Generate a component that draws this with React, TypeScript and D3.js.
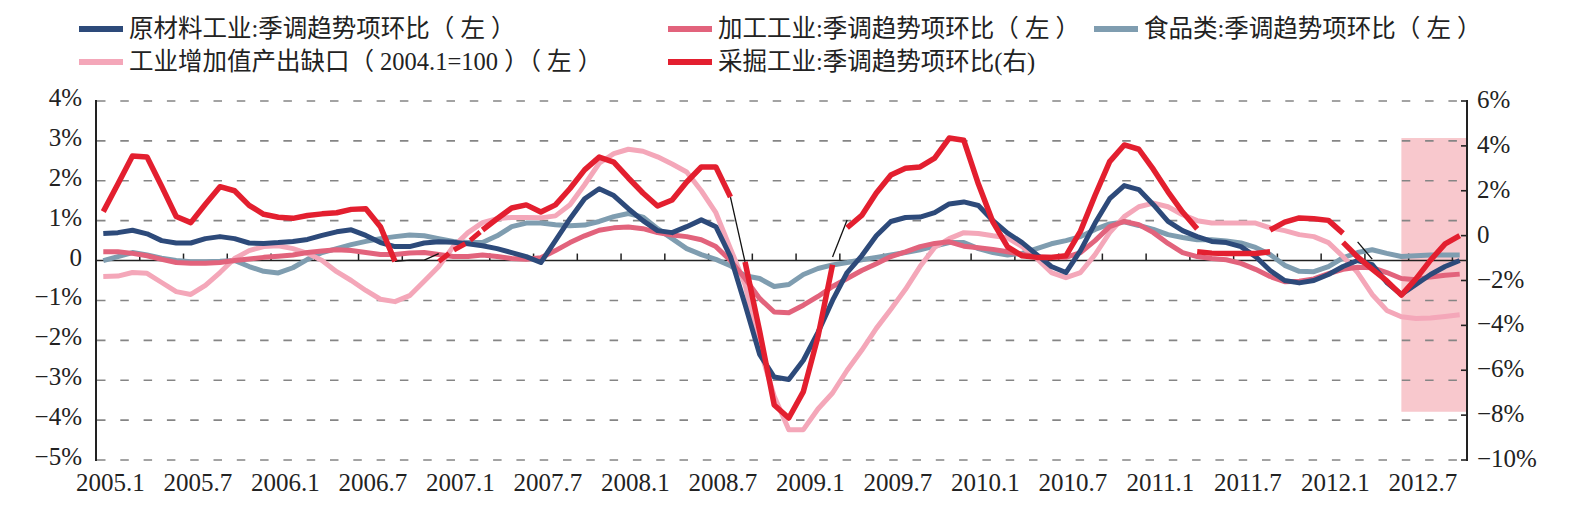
import React, { useEffect, useRef } from "react";
import * as d3 from "d3";

// months 2005.1 .. 2012.10
const firstYear = 2005;
const monthCount = 94;
const months: string[] = d3.range(monthCount).map((i) => `${firstYear + Math.floor(i / 12)}.${(i % 12) + 1}`);

const tickLabels = ["2005.1", "2005.7", "2006.1", "2006.7", "2007.1", "2007.7", "2008.1", "2008.7",
  "2009.1", "2009.7", "2010.1", "2010.7", "2011.1", "2011.7", "2012.1", "2012.7"];
const leftTicks = [4, 3, 2, 1, 0, -1, -2, -3, -4, -5];
const rightTicks = [6, 4, 2, 0, -2, -4, -6, -8, -10];

// 原材料工业
const rawMaterial = [
  0.68, 0.70, 0.76, 0.67, 0.50, 0.44, 0.44, 0.55, 0.60, 0.55,
  0.44, 0.43, 0.45, 0.48, 0.53, 0.63, 0.72, 0.77, 0.63, 0.45,
  0.35, 0.35, 0.44, 0.47, 0.46, 0.42, 0.37, 0.30, 0.20, 0.10,
  -0.05, 0.50, 1.05, 1.55, 1.80, 1.63, 1.30, 1.00, 0.75, 0.70,
  0.85, 1.02, 0.85, 0.10, -1.10, -2.35, -2.92, -2.98, -2.50, -1.80,
  -1.00, -0.30, 0.12, 0.62, 0.98, 1.08, 1.09, 1.20, 1.42, 1.47,
  1.38, 1.00, 0.69, 0.45, 0.15, -0.15, -0.30, 0.25, 0.94, 1.55,
  1.88, 1.78, 1.40, 0.98, 0.75, 0.60, 0.48, 0.45, 0.35, 0.10,
  -0.25, -0.50, -0.56, -0.50, -0.35, -0.15, 0.00, -0.10, -0.55, -0.85,
  -0.60, -0.35, -0.15, 0.00,
];

// 加工工业
const processing = [
  0.22, 0.22, 0.18, 0.12, 0.03, -0.05, -0.07, -0.07, -0.05, 0.00,
  0.04, 0.08, 0.11, 0.14, 0.20, 0.24, 0.27, 0.25, 0.20, 0.15,
  0.15, 0.19, 0.20, 0.15, 0.10, 0.10, 0.14, 0.10, 0.05, 0.03,
  0.07, 0.25, 0.45, 0.62, 0.76, 0.82, 0.84, 0.80, 0.70, 0.64,
  0.60, 0.52, 0.35, 0.00, -0.45, -0.95, -1.29, -1.31, -1.12, -0.90,
  -0.65, -0.45, -0.25, -0.08, 0.10, 0.22, 0.35, 0.43, 0.47, 0.36,
  0.32, 0.28, 0.22, 0.15, 0.10, 0.08, 0.08, 0.20, 0.50, 0.85,
  0.98, 0.90, 0.70, 0.43, 0.20, 0.10, 0.05, 0.02, -0.07, -0.22,
  -0.40, -0.53, -0.52, -0.46, -0.33, -0.22, -0.17, -0.18, -0.30, -0.45,
  -0.48, -0.41, -0.37, -0.34,
];

// 食品类
const food = [
  0.00, 0.10, 0.20, 0.14, 0.06, 0.00, -0.03, -0.03, -0.02, 0.00,
  -0.15, -0.27, -0.31, -0.18, 0.03, 0.20, 0.30, 0.40, 0.48, 0.55,
  0.60, 0.64, 0.62, 0.55, 0.48, 0.45, 0.45, 0.62, 0.85, 0.94,
  0.94, 0.90, 0.87, 0.89, 0.98, 1.10, 1.18, 1.09, 0.80, 0.55,
  0.30, 0.15, 0.03, -0.13, -0.38, -0.45, -0.65, -0.60, -0.35, -0.20,
  -0.11, -0.05, 0.02, 0.08, 0.14, 0.20, 0.27, 0.36, 0.45, 0.45,
  0.30, 0.20, 0.14, 0.18, 0.30, 0.42, 0.50, 0.60, 0.78, 0.92,
  0.97, 0.88, 0.78, 0.65, 0.58, 0.52, 0.52, 0.49, 0.44, 0.33,
  0.15, -0.12, -0.27, -0.28, -0.15, 0.07, 0.20, 0.27, 0.18, 0.10,
  0.12, 0.14, 0.14, 0.14,
];

// 工业增加值产出缺口
const outputGap = [
  -0.40, -0.39, -0.30, -0.32, -0.55, -0.78, -0.85, -0.62, -0.30, 0.05,
  0.25, 0.35, 0.37, 0.30, 0.18, 0.00, -0.28, -0.50, -0.75, -0.97,
  -1.03, -0.88, -0.52, -0.15, 0.35, 0.70, 0.95, 1.05, 1.08, 1.08,
  1.07, 1.12, 1.40, 1.90, 2.44, 2.68, 2.79, 2.74, 2.60, 2.42,
  2.22, 1.75, 1.20, 0.30, -0.60, -2.20, -3.40, -4.24, -4.24, -3.72,
  -3.32, -2.75, -2.25, -1.70, -1.22, -0.72, -0.15, 0.33, 0.55, 0.70,
  0.68, 0.62, 0.57, 0.35, 0.05, -0.30, -0.43, -0.30, 0.15, 0.70,
  1.10, 1.35, 1.44, 1.35, 1.15, 1.00, 0.94, 0.94, 0.94, 0.94,
  0.82, 0.75, 0.65, 0.60, 0.45, 0.10, -0.30, -0.85, -1.25, -1.41,
  -1.45, -1.44, -1.40, -1.36,
];

// 采掘工业 (right axis), drawn in broken pieces: [first month, values]
const miningSolid: [string, number[]][] = [
  ["2005.1", [1.07, 2.3, 3.55, 3.5, 2.2, 0.85, 0.58, 1.4, 2.18, 2.0, 1.35, 0.95, 0.82, 0.77, 0.9, 0.97, 1.02, 1.17, 1.2, 0.4, -1.15]],
  ["2007.3", [0.25, 0.75, 1.23, 1.37, 1.05, 1.37, 2.1, 2.93, 3.5, 3.28, 2.57, 1.9, 1.32, 1.59, 2.39, 3.06, 3.06, 1.72]],
  ["2008.9", [-1.17, -4.25, -7.55, -8.13, -6.95, -4.5, -1.3]],
  ["2009.4", [0.35, 0.9, 1.9, 2.7, 3.0, 3.06, 3.45, 4.35, 4.25, 2.3, 0.6, -0.5, -0.9, -0.97, -0.97, -0.9, 0.2, 1.8, 3.3, 4.04, 3.85, 2.95, 1.95, 1.05, 0.3]],
  ["2011.4", [-0.72, -0.78, -0.8, -0.8, -0.8, -0.72]],
  ["2011.9", [0.25, 0.6, 0.79, 0.75, 0.68, 0.1]],
  ["2012.2", [-0.3, -0.95, -1.49, -2.02, -2.65, -1.93, -1.09, -0.37, 0.0]],
];
const miningDashed: [string, number[]][] = [["2006.12", [-1.15, -0.65, -0.3, 0.25]]];
const miningLinks: [string, number[]][] = [
  ["2006.9", [-1.15, -1.09, -1.09, -0.8]],
  ["2008.8", [1.72, -1.17]],
  ["2009.3", [-0.95, 0.7]],
  ["2012.3", [-0.28, -1.05]],
];

// shaded block (right-axis values)
const shadeFrom = "2012.6";
const shadeTop = 4.35;
const shadeBottom = -7.85;

const legendItems = [
  { name: "原材料工业:季调趋势项环比（ 左 ）", color: "#2d4a7a" },
  { name: "加工工业:季调趋势项环比（ 左 ）", color: "#e2637c" },
  { name: "食品类:季调趋势项环比（ 左 ）", color: "#7f9db0" },
  { name: "工业增加值产出缺口（ 2004.1=100 ）（ 左 ）", color: "#f4a7b9" },
  { name: "采掘工业:季调趋势项环比(右)", color: "#e31f2f" },
];

const App = () => {
  const svgRef = useRef<SVGSVGElement>(null);

  useEffect(() => {
    const W = 1586, H = 507;
    const left = 96, right = 1467, top = 101, bottom = 460;
    const svg = d3.select(svgRef.current);
    svg.selectAll("*").remove();
    const serif = "'Liberation Serif', 'Times New Roman', serif";

    const x = d3.scaleBand().domain(months).range([left, right]).padding(0);
    const cx = (m: string) => (x(m) as number) + x.bandwidth() / 2;
    const yL = d3.scaleLinear().domain([-5, 4]).range([bottom, top]);
    const yR = d3.scaleLinear().domain([-10, 6]).range([bottom, top]);

    svg.append("rect").attr("width", W).attr("height", H).attr("fill", "#fff");

    // shaded area
    svg.append("rect")
      .attr("x", cx(shadeFrom)).attr("y", yR(shadeTop))
      .attr("width", right - cx(shadeFrom)).attr("height", yR(shadeBottom) - yR(shadeTop))
      .attr("fill", "#f8c8cd");

    // gridlines
    svg.append("g").selectAll("line")
      .data(leftTicks.filter((t) => t !== 0))
      .join("line")
      .attr("x1", left + 1).attr("x2", right - 4)
      .attr("y1", (d) => yL(d)).attr("y2", (d) => yL(d))
      .attr("stroke", "#858585").attr("stroke-width", 1.6)
      .attr("stroke-dasharray", "8.5 14.8");

    // zero axis + ticks
    svg.append("line").attr("x1", left).attr("x2", right)
      .attr("y1", yL(0)).attr("y2", yL(0)).attr("stroke", "#222").attr("stroke-width", 1.6);
    svg.append("g").selectAll("line")
      .data(months.filter((_, i) => i > 0 && i % 3 === 0))
      .join("line")
      .attr("x1", (d) => x(d) as number).attr("x2", (d) => x(d) as number)
      .attr("y1", yL(0) - 7).attr("y2", yL(0))
      .attr("stroke", "#222").attr("stroke-width", 1.5);

    // side axes
    svg.append("line").attr("x1", left).attr("x2", left).attr("y1", top - 1).attr("y2", bottom + 1)
      .attr("stroke", "#222").attr("stroke-width", 2);
    svg.append("line").attr("x1", right).attr("x2", right).attr("y1", top - 1).attr("y2", bottom + 1)
      .attr("stroke", "#222").attr("stroke-width", 2);
    svg.append("g").selectAll("line")
      .data(rightTicks)
      .join("line")
      .attr("x1", right - 6).attr("x2", right)
      .attr("y1", (d) => yR(d)).attr("y2", (d) => yR(d))
      .attr("stroke", "#222").attr("stroke-width", 1.6);

    const fmt = (v: number) => (v === 0 ? "0" : `${v < 0 ? "\u2212" : ""}${Math.abs(v)}%`);

    svg.append("g").selectAll("text")
      .data(leftTicks)
      .join("text")
      .attr("x", 82).attr("y", (d) => yL(d) + 5)
      .attr("text-anchor", "end")
      .style("font", `25px ${serif}`).attr("fill", "#222")
      .text(fmt);

    svg.append("g").selectAll("text")
      .data(rightTicks)
      .join("text")
      .attr("x", 1477).attr("y", (d) => yR(d) + 7)
      .style("font", `25px ${serif}`).attr("fill", "#222")
      .text(fmt);

    svg.append("g").selectAll("text")
      .data(tickLabels)
      .join("text")
      .attr("x", (d) => cx(d) + 7).attr("y", 491)
      .attr("text-anchor", "middle")
      .style("font", `25px ${serif}`).attr("fill", "#222")
      .text((d) => d);

    // series
    const monthLine = (start: string, scale: d3.ScaleLinear<number, number>) => {
      const s = months.indexOf(start);
      return d3.line<number>().x((_, j) => cx(months[s + j])).y((d) => scale(d));
    };
    const g = svg.append("g").attr("fill", "none").attr("stroke-linejoin", "round").attr("stroke-linecap", "butt");

    const leftSeries: [number[], string][] = [
      [food, legendItems[2].color],
      [outputGap, legendItems[3].color],
      [processing, legendItems[1].color],
      [rawMaterial, legendItems[0].color],
    ];
    leftSeries.forEach(([vals, color]) => {
      g.append("path").attr("d", monthLine(months[0], yL)(vals)).attr("stroke", color).attr("stroke-width", 5);
    });

    const red = legendItems[4].color;
    miningLinks.forEach(([start, vals]) => {
      g.append("path").attr("d", monthLine(start, yR)(vals)).attr("stroke", "#111").attr("stroke-width", 1.3);
    });
    miningDashed.forEach(([start, vals]) => {
      g.append("path").attr("d", monthLine(start, yR)(vals)).attr("stroke", red)
        .attr("stroke-width", 5).attr("stroke-dasharray", "13 6");
    });
    miningSolid.forEach(([start, vals]) => {
      g.append("path").attr("d", monthLine(start, yR)(vals)).attr("stroke", red).attr("stroke-width", 5.5);
    });

    // legend
    const legendPos = [
      [79, 29], [668, 29], [1094, 29], [79, 62], [668, 62],
    ];
    const lg = svg.append("g");
    legendItems.forEach((item, i) => {
      const [lx, ly] = legendPos[i];
      lg.append("line").attr("x1", lx).attr("x2", lx + 44).attr("y1", ly).attr("y2", ly)
        .attr("stroke", item.color).attr("stroke-width", 6);
      lg.append("text").attr("x", lx + 50).attr("y", ly + 8)
        .style("font", `24.5px 'Liberation Serif', 'Noto Sans CJK SC', serif`).attr("fill", "#222")
        .text(item.name);
    });
  }, []);

  return (
    <svg ref={svgRef} width={1586} height={507}
      style={{ position: "absolute", left: 0, top: 0, display: "block", background: "#fff" }} />
  );
};

export default App;
